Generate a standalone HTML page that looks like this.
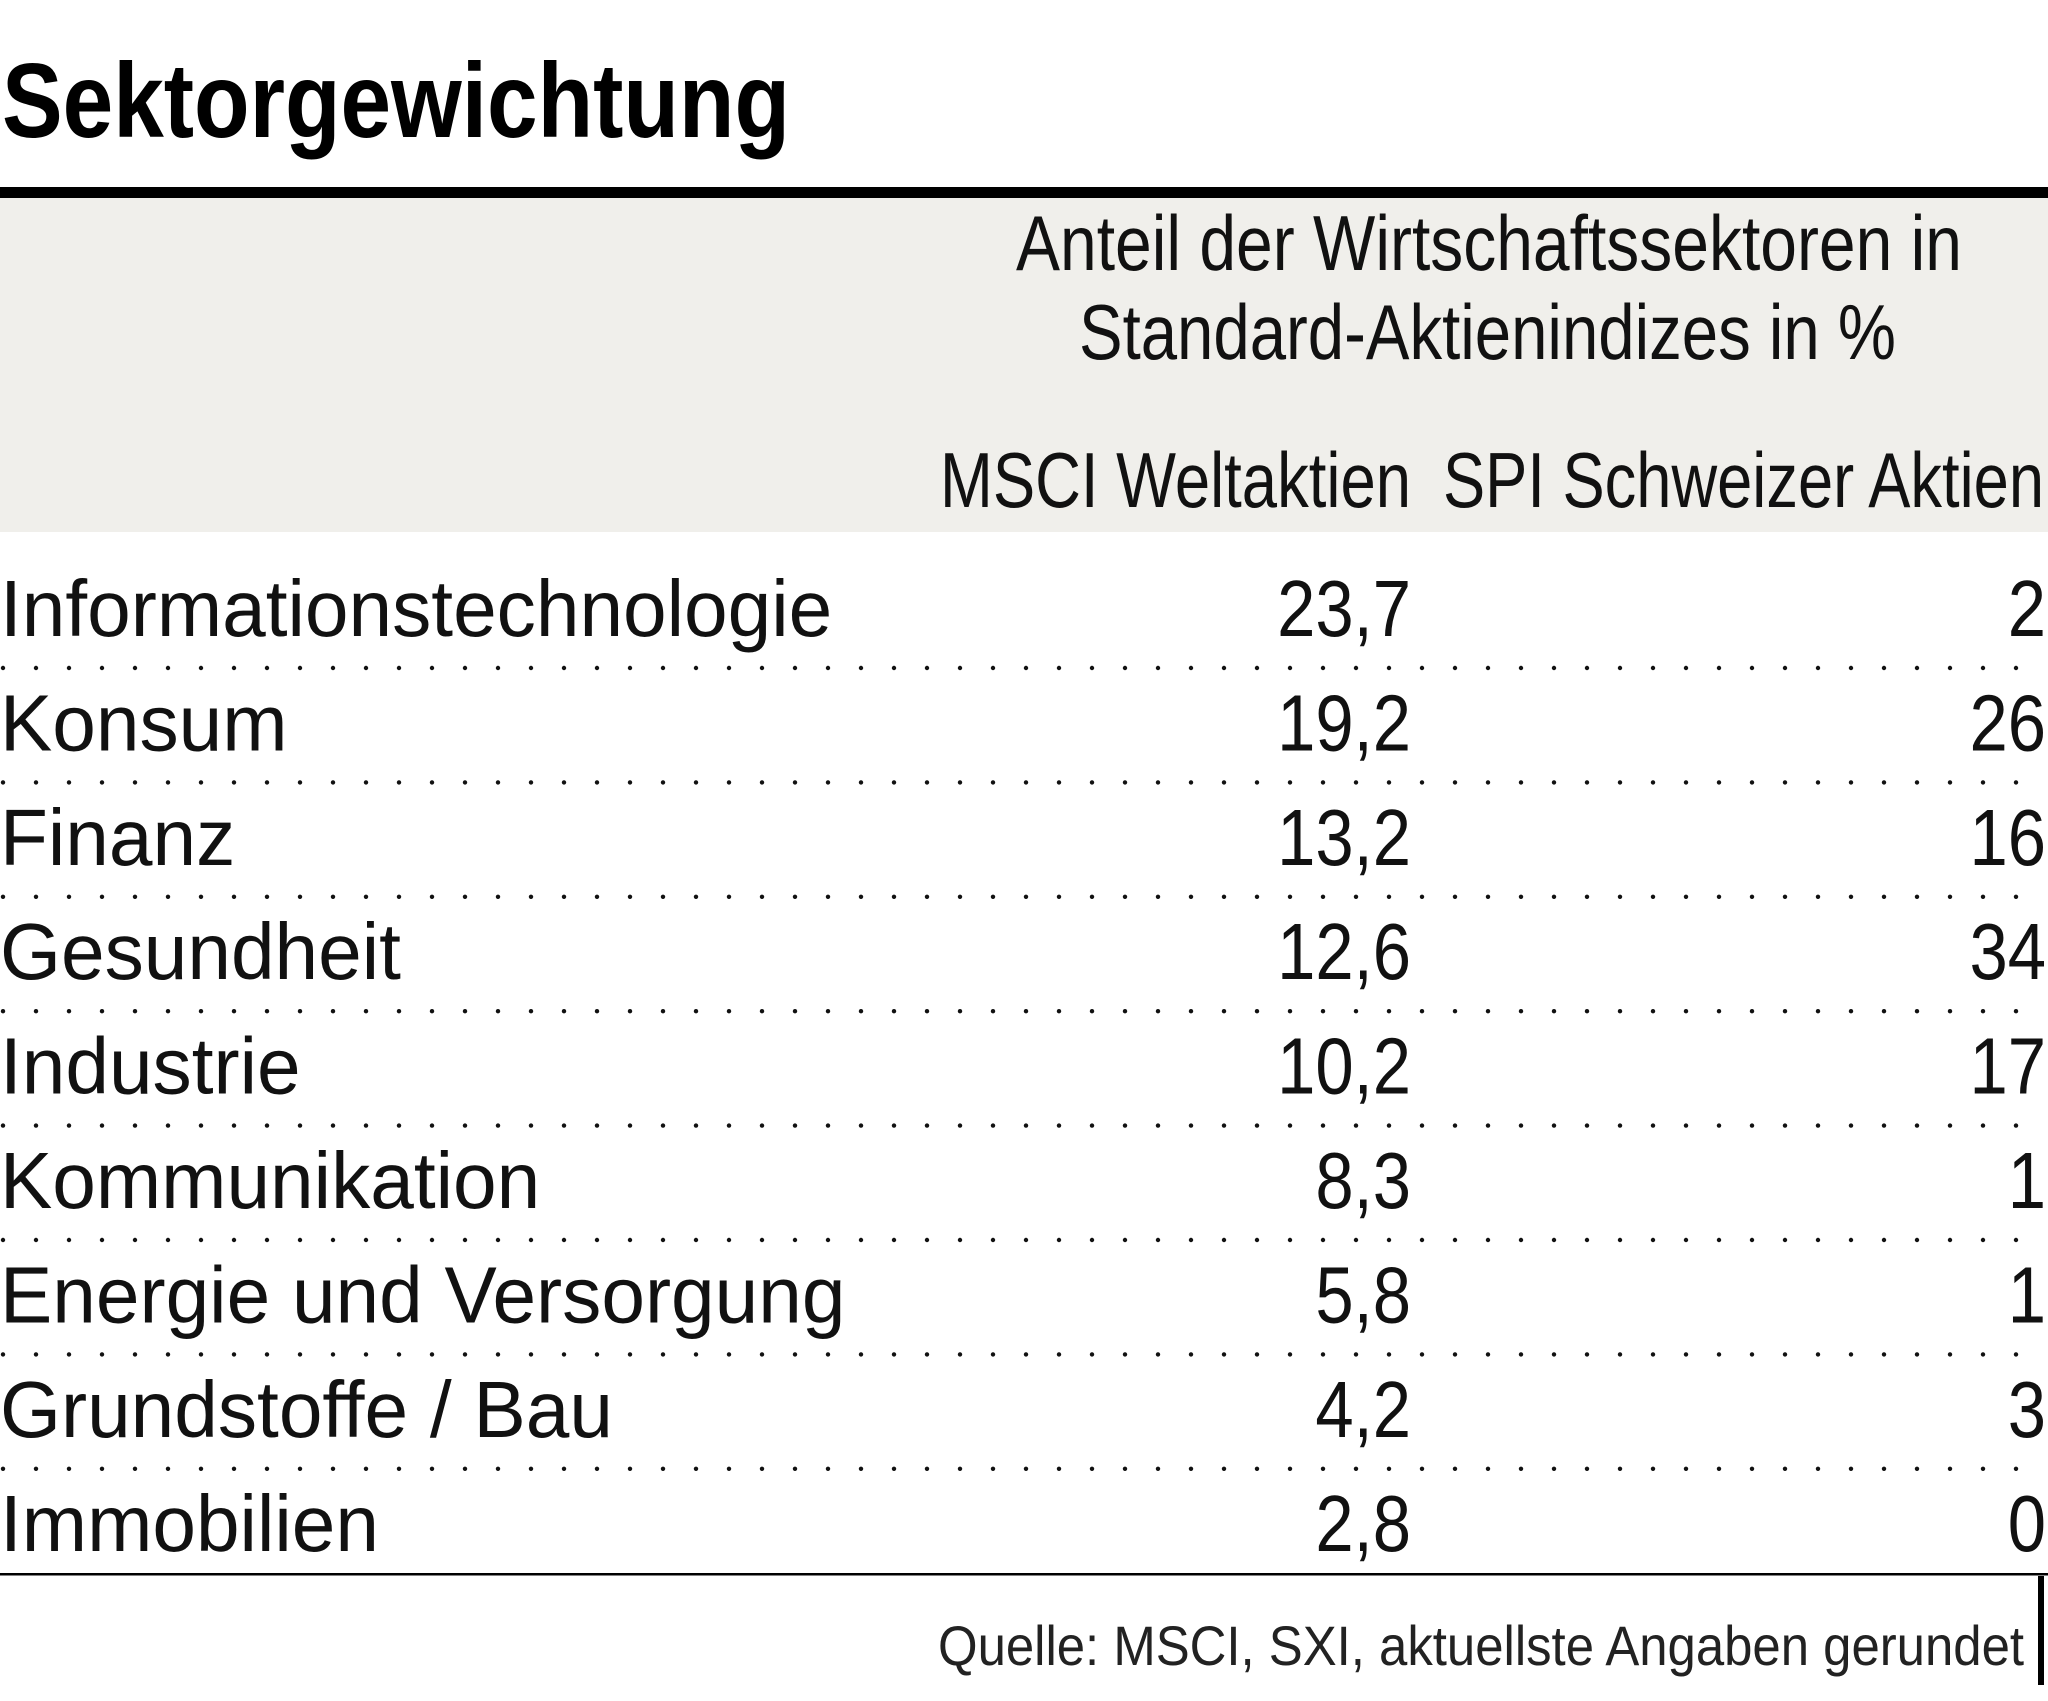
<!DOCTYPE html>
<html><head><meta charset="utf-8"><style>
html,body{margin:0;padding:0;background:#fff;}
svg{display:block;font-family:"Liberation Sans",sans-serif;}
</style></head><body>
<svg id="chart" width="2048" height="1701" viewBox="0 0 2048 1701" xmlns="http://www.w3.org/2000/svg">
<text x="2" y="137" font-size="106" font-weight="bold" textLength="788" lengthAdjust="spacingAndGlyphs" fill="#000">Sektorgewichtung</text>
<rect x="0" y="187" width="2048" height="11" fill="#000"/>
<rect x="0" y="198" width="2048" height="334" fill="#f0efeb"/>
<text x="1016" y="270" font-size="78" textLength="946" lengthAdjust="spacingAndGlyphs" fill="#111">Anteil der Wirtschaftssektoren in</text>
<text x="1079" y="359" font-size="78" textLength="817" lengthAdjust="spacingAndGlyphs" fill="#111">Standard-Aktienindizes in %</text>
<text x="940" y="507" font-size="78" textLength="471" lengthAdjust="spacingAndGlyphs" fill="#111">MSCI Weltaktien</text>
<text x="1443" y="507" font-size="78" textLength="601" lengthAdjust="spacingAndGlyphs" fill="#111">SPI Schweizer Aktien</text>
<g id="rows"></g>
<rect x="0" y="1573" width="2048" height="2.5" fill="#000"/>
<rect x="2038" y="1576" width="6" height="109" fill="#000"/>
<text x="938" y="1665" font-size="56" textLength="1086" lengthAdjust="spacingAndGlyphs" fill="#222" font-weight="300">Quelle: MSCI, SXI, aktuellste Angaben gerundet</text>
</svg>
<script>
const sectors = ["Informationstechnologie","Konsum","Finanz","Gesundheit","Industrie","Kommunikation","Energie und Versorgung","Grundstoffe / Bau","Immobilien"];
const msciValues = [23.7,19.2,13.2,12.6,10.2,8.3,5.8,4.2,2.8];
const spiValues = [2,26,16,34,17,1,1,3,0];

const NS = "http://www.w3.org/2000/svg";
const g = document.getElementById("rows");
const rowY0 = 636, rowStep = 114.4;
function rowY(i){ return rowY0 + i*rowStep; }
function fmt(v, dec){ return dec ? v.toFixed(1).replace(".", ",") : String(v); }
function addText(txt, x, y, anchor, sx, name){
  const grp = document.createElementNS(NS,"g");
  grp.setAttribute("transform","translate("+x+","+y+") scale("+sx+",1)");
  const t = document.createElementNS(NS,"text");
  
  
  t.setAttribute("font-size","80");
  t.setAttribute("fill","#111");
  t.setAttribute("text-anchor",anchor);
  t.textContent = txt;
  grp.appendChild(t);
  g.appendChild(grp);
}
sectors.forEach((s,i)=>{
  const y = rowY(i);
  addText(s, 0, y, "start", 0.98, "sector-label");
  addText(fmt(msciValues[i],true), 1411, y, "end", 0.86, "msci-value");
  addText(fmt(spiValues[i],false), 2046, y, "end", 0.86, "spi-value");
  if (i < sectors.length-1){
    const dy = y + 32;
    for (let x = 3; x < 2048; x += 33){
      const c = document.createElementNS(NS,"circle");
      
      
      c.setAttribute("cx", x); c.setAttribute("cy", dy); c.setAttribute("r", 2.2);
      c.setAttribute("fill","#111");
      g.appendChild(c);
    }
  }
});
</script>
</body></html>
